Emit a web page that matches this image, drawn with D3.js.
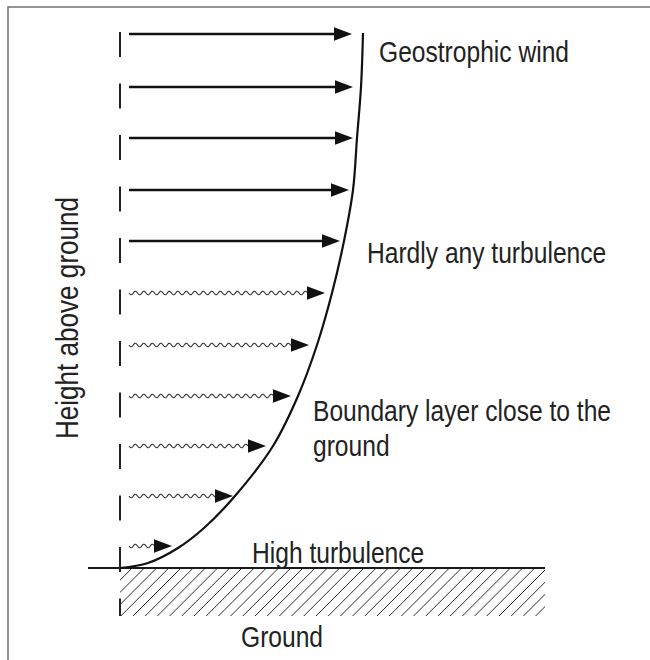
<!DOCTYPE html>
<html>
<head>
<meta charset="utf-8">
<script src="https://cdn.jsdelivr.net/npm/d3@7"></script>
<style>
  html, body { margin: 0; padding: 0; background: #fff; }
  svg { display: block; }
  text { font-family: "Liberation Sans", Arial, Helvetica, sans-serif; fill: #222; }
</style>
</head>
<body>
<svg id="chart" width="650" height="660"></svg>
<script>
// ---- data ----
// wind arrows: height above ground (arbitrary units) and wind speed (arbitrary units)
const arrowHeights = [534, 481, 430, 378, 327, 275, 223, 172, 122, 72, 22];
const arrowSpeeds  = [232, 233, 233, 229, 220, 205, 189, 171, 146, 113, 52];
const arrowTurbulent = [false, false, false, false, false, true, true, true, true, true, true];
// wind profile curve
const profileHeights = [535, 481, 430, 378, 327, 275, 223, 172, 122, 72, 40, 20, 5, 0];
const profileSpeeds  = [243, 241, 237, 233, 224, 212, 197, 178, 153, 115, 84, 58, 28, 0];
// labels
const labelTexts = ["Geostrophic wind", "Hardly any turbulence", "Boundary layer close to the", "ground", "High turbulence"];
const labelSpeeds  = [259, 247, 193, 193, 132];
const labelHeights = [506, 305, 147, 112, 5];
const axisTitle = "Height above ground";
const groundTitle = "Ground";

// ---- layout ----
const svg = d3.select("#chart");
const x = d3.scaleLinear().domain([0, 250]).range([120, 370]);
const y = d3.scaleLinear().domain([0, 540]).range([568, 28]);
const groundY = y(0);
const groundBottom = 616;
const groundRight = 545;

// frame
svg.append("rect").attr("x", 8).attr("y", 7).attr("width", 700).attr("height", 700)
  .attr("fill", "none").attr("stroke", "#7a7a7a").attr("stroke-width", 1.6);

// hatched ground
const clip = svg.append("defs").append("clipPath").attr("id", "gclip");
clip.append("rect").attr("x", x(0)).attr("y", groundY).attr("width", groundRight - x(0)).attr("height", groundBottom - groundY);
const hatch = svg.append("g").attr("clip-path", "url(#gclip)");
const hh = groundBottom - groundY;
d3.range(x(0) - hh, groundRight + 12, 12.2).forEach(sx => {
  hatch.append("line").attr("x1", sx).attr("y1", groundBottom).attr("x2", sx + hh).attr("y2", groundY)
    .attr("stroke", "#2a2a2a").attr("stroke-width", 1);
});

// ground line
svg.append("line").attr("x1", 88).attr("x2", groundRight).attr("y1", groundY).attr("y2", groundY)
  .attr("stroke", "#1a1a1a").attr("stroke-width", 1.8);

// dashed vertical axis
svg.append("line").attr("x1", x(0)).attr("x2", x(0)).attr("y1", 32).attr("y2", groundBottom)
  .attr("stroke", "#222").attr("stroke-width", 2).attr("stroke-dasharray", "25 26.5");

// profile curve
const line = d3.line().x(d => x(d[1])).y(d => y(d[0])).curve(d3.curveCatmullRom.alpha(0.5));
svg.append("path").datum(profileHeights.map((h, i) => [h, profileSpeeds[i]]))
  .attr("d", line).attr("fill", "none").attr("stroke", "#111").attr("stroke-width", 2.2);

// arrows
const headLen = 18, headHalf = 6.8, startOff = 9;
arrowHeights.forEach((h, i) => {
  const yy = y(h);
  const x0 = x(0) + startOff;
  const tip = x(arrowSpeeds[i]);
  const xEnd = tip - headLen;
  if (arrowTurbulent[i]) {
    const pts = [];
    for (let xx = x0; xx <= xEnd + 0.01; xx += 0.5) {
      pts.push([xx, yy + 1.8 * Math.sin((xx - x0) / 8.5 * 2 * Math.PI)]);
    }
    svg.append("path").attr("d", d3.line()(pts)).attr("fill", "none")
      .attr("stroke", "#333").attr("stroke-width", 1.1);
  } else {
    svg.append("line").attr("x1", x0).attr("x2", xEnd + 2).attr("y1", yy).attr("y2", yy)
      .attr("stroke", "#111").attr("stroke-width", 2.6);
  }
  svg.append("path").attr("d", `M${tip},${yy}L${xEnd},${yy - headHalf}L${xEnd},${yy + headHalf}Z`)
    .attr("fill", "#111");
});

// labels
const sx = 0.82, fs = 30;
labelTexts.forEach((t, i) => {
  svg.append("text").attr("transform", `translate(${x(labelSpeeds[i])},${y(labelHeights[i])}) scale(${sx},1)`)
    .attr("font-size", fs).text(t);
});
svg.append("text").attr("transform", `translate(241,647) scale(${sx},1)`).attr("font-size", fs).text(groundTitle);
svg.append("text").attr("transform", `translate(78,318) rotate(-90) scale(${sx * 1.04},1)`)
  .attr("font-size", fs * 1.02).attr("text-anchor", "middle").text(axisTitle);
</script>
</body>
</html>
